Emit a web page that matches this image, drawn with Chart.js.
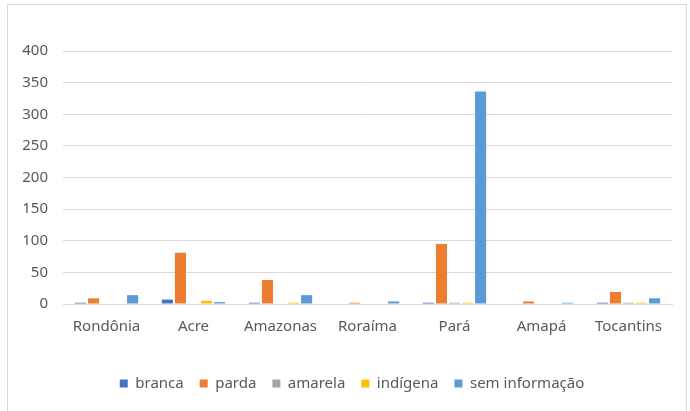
<!DOCTYPE html>
<html>
<head>
<meta charset="utf-8">
<script src="https://cdn.jsdelivr.net/npm/chart.js@4/dist/chart.umd.min.js"></script>
<style>
  html, body { margin: 0; padding: 0; background: #fff; }
  #frame { position: absolute; left: 7px; top: 4px; width: 678px; height: 430px; border: 1px solid #d9d9d9; }
  #wrap { position: absolute; left: 0; top: 0; width: 690px; height: 411px; }
</style>
</head>
<body>
<div id="frame"></div>
<div id="wrap"><canvas id="grafico"></canvas></div>
<script>
const estados = ['Rondônia', 'Acre', 'Amazonas', 'Roraíma', 'Pará', 'Amapá', 'Tocantins'];

const branca = [2, 7, 2, 0, 2, 0, 2];
const parda = [9, 81, 38, 2, 95, 4, 19];
const amarela = [0, 0, 0, 0, 2, 0, 2];
const indigena = [0, 5, 2, 0, 2, 0, 2];
const semInformacao = [14, 3, 14, 4, 336, 2, 9];

const yTicks = [0, 50, 100, 150, 200, 250, 300, 350, 400];

const fonte = "'Noto Sans', sans-serif";
const cinzaTexto = '#595959';

function serie(label, dados, cor) {
    return {
        label: label,
        data: dados,
        backgroundColor: cor,
        borderWidth: 0,
        categoryPercentage: 0.75,
        barPercentage: 0.85
    };
}

// empurra a legenda um pouco para a direita
const deslocaLegenda = {
    id: 'deslocaLegenda',
    afterLayout(chart) {
        chart.legend.left += 16;
        chart.legend.right += 16;
    }
};

const ctx = document.getElementById('grafico').getContext('2d');

new Chart(ctx, {
    type: 'bar',
    data: {
        labels: estados,
        datasets: [
            serie('branca', branca, '#4472C4'),
            serie('parda', parda, '#ED7D31'),
            serie('amarela', amarela, '#A5A5A5'),
            serie('indígena', indigena, '#FFC000'),
            serie('sem informação', semInformacao, '#5B9BD5')
        ]
    },
    plugins: [deslocaLegenda],
    options: {
        responsive: true,
        maintainAspectRatio: false,
        animation: false,
        layout: { padding: { top: 51, right: 18, bottom: 10, left: 0 } },
        plugins: {
            tooltip: { enabled: false },
            legend: {
                position: 'bottom',
                labels: {
                    boxWidth: 8,
                    boxHeight: 8,
                    padding: 16,
                    color: cinzaTexto,
                    font: { family: fonte, size: 15 }
                }
            }
        },
        scales: {
            x: {
                grid: { display: false },
                border: { color: '#d9d9d9' },
                ticks: { color: cinzaTexto, padding: 6, font: { family: fonte, size: 15 } },
                afterFit: (s) => { s.height = 56; }
            },
            y: {
                min: 0,
                max: 400,
                afterBuildTicks: (s) => { s.ticks = yTicks.map(v => ({ value: v })); },
                grid: { color: '#d9d9d9', drawTicks: false },
                border: { display: false },
                ticks: { color: cinzaTexto, padding: 15, font: { family: fonte, size: 15 } },
                afterFit: (s) => { s.width = 63; }
            }
        }
    }
});
</script>
</body>
</html>
